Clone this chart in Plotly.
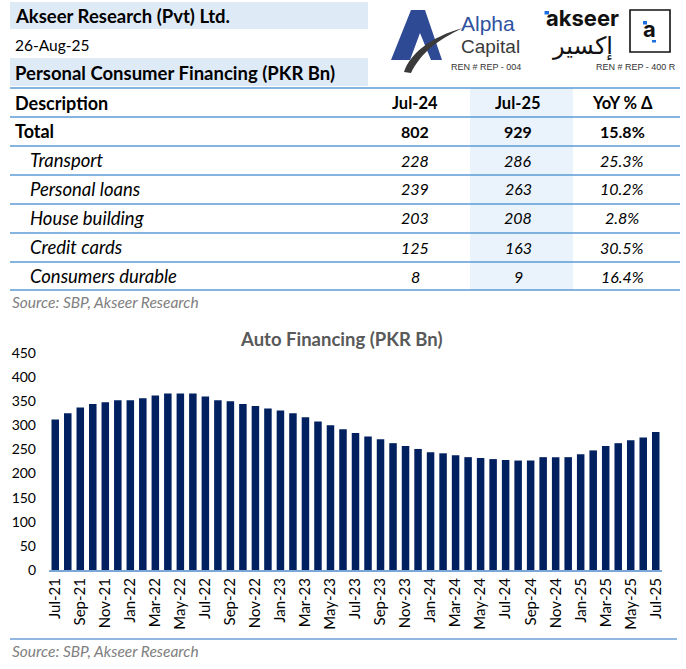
import plotly.graph_objects as go

W, H = 686, 669

# ---------------- data ----------------
months = ["Jul-21", "Aug-21", "Sep-21", "Oct-21", "Nov-21", "Dec-21",
          "Jan-22", "Feb-22", "Mar-22", "Apr-22", "May-22", "Jun-22",
          "Jul-22", "Aug-22", "Sep-22", "Oct-22", "Nov-22", "Dec-22",
          "Jan-23", "Feb-23", "Mar-23", "Apr-23", "May-23", "Jun-23",
          "Jul-23", "Aug-23", "Sep-23", "Oct-23", "Nov-23", "Dec-23",
          "Jan-24", "Feb-24", "Mar-24", "Apr-24", "May-24", "Jun-24",
          "Jul-24", "Aug-24", "Sep-24", "Oct-24", "Nov-24", "Dec-24",
          "Jan-25", "Feb-25", "Mar-25", "Apr-25", "May-25", "Jun-25",
          "Jul-25"]
auto_financing = [312, 325, 337, 344, 348, 352, 352, 356, 362, 366,
                  366, 366, 360, 352, 350, 344, 340, 335, 331, 325,
                  317, 308, 300, 292, 284, 277, 271, 263, 257, 251,
                  244, 242, 238, 234, 232, 230, 228, 227, 227, 234,
                  234, 234, 240, 248, 257, 263, 269, 275, 286]
tick_labels = months[::2]

descriptions = ["Transport", "Personal loans", "House building",
                "Credit cards", "Consumers durable"]
jul24 = [228, 239, 203, 125, 8]
jul25 = [286, 263, 208, 163, 9]
yoy = ["25.3%", "10.2%", "2.8%", "30.5%", "16.4%"]
total_row = ["Total", 802, 929, "15.8%"]
headers = ["Description", "Jul-24", "Jul-25", "YoY % Δ"]

# ---------------- helpers (pixel -> paper) ----------------
def px(x):
    return x / W

def py(y):
    return 1 - y / H

def path(cmds):
    out = []
    for c in cmds:
        if isinstance(c, str):
            out.append(c)
        else:
            out.append(f"{px(c[0]):.5f},{py(c[1]):.5f}")
    return " ".join(out)

FONT = "Lato, Open Sans, sans-serif"
LINE_BLUE = "#5b9bd5"

fig = go.Figure()
fig.add_trace(go.Bar(x=months, y=auto_financing, marker_color="#002060",
                     marker_line_width=0, hoverinfo="x+y"))

shapes = []
annos = []

def rect(x0, y0, x1, y1, fill, line=None, lw=0, layer="below"):
    shapes.append(dict(type="rect", xref="paper", yref="paper",
                       x0=px(x0), x1=px(x1), y0=py(y1), y1=py(y0),
                       fillcolor=fill, line=dict(width=lw, color=line or fill),
                       layer=layer))

def hline(y, x0, x1, color=LINE_BLUE, w=1.3):
    shapes.append(dict(type="line", xref="paper", yref="paper",
                       x0=px(x0), x1=px(x1), y0=py(y), y1=py(y),
                       line=dict(color=color, width=w)))

def text(x, y, s, size=16, color="#000", bold=False, italic=False,
         anchor="left", family=FONT):
    t = f"<b>{s}</b>" if bold else s
    t = f"<i>{t}</i>" if italic else t
    annos.append(dict(x=px(x), y=py(y), xref="paper", yref="paper",
                      text=t, showarrow=False, xanchor=anchor, yanchor="middle",
                      borderpad=0,
                      font=dict(family=family, size=size, color=color)))

# header bands
rect(10, 2, 368, 29, "#dfeaf7")
rect(10, 58, 368, 86, "#dfeaf7")
# Jul-25 column shading
rect(470, 88, 573, 290, "#eaf2fb")

text(14, 16, "Akseer Research (Pvt) Ltd.", 18.5, bold=True)
text(14, 45, "26-Aug-25", 15.5)
text(14, 73, "Personal Consumer Financing (PKR Bn)", 18.5, bold=True)

# table lines
for y in [88, 117, 146, 175, 204, 233, 262, 290]:
    hline(y, 10, 680)

col_x = [415, 518, 622]
row_h = 103
text(14, row_h, headers[0], 18, bold=True)
for cx, h in zip(col_x, headers[1:]):
    text(cx, row_h, h, 16.5, bold=True, anchor="center")

text(14, 131, total_row[0], 18, bold=True)
for cx, v in zip(col_x, total_row[1:]):
    text(cx, 131, str(v), 16, bold=True, anchor="center")

for i, d in enumerate(descriptions):
    y = 160 + 29 * i
    text(29, y, d, 18.5, italic=True)
    text(col_x[0], y, str(jul24[i]), 16, italic=True, anchor="center")
    text(col_x[1], y, str(jul25[i]), 16, italic=True, anchor="center")
    text(col_x[2], y, yoy[i], 16, italic=True, anchor="center")

text(11, 302, "Source: SBP, Akseer Research", 15.5, color="#808080", italic=True)

# chart title & bottom
text(341, 339, "Auto Financing (PKR Bn)", 18.5, color="#595959", bold=True,
     anchor="center")
hline(639, 10, 677, color="#6e9fd6", w=1.5)
text(11, 651, "Source: SBP, Akseer Research", 15.5, color="#808080", italic=True)

# ---------------- logos ----------------
# Alpha Capital "A"
shapes.append(dict(type="path", xref="paper", yref="paper", layer="above",
                   path=path(["M", (411, 10), "L", (425, 10), "L", (442, 60),
                              "L", (431, 60), "L", (420, 33), "L", (410, 60),
                              "L", (391, 60), "Z"]),
                   fillcolor="#2e4a95", line=dict(width=0)))
shapes.append(dict(type="path", xref="paper", yref="paper", layer="above",
                   path=path(["M", (404, 72), "C", (410, 54), (430, 37), (463, 28),
                              "C", (437, 40), (421, 53), (411, 73), "Z"]),
                   fillcolor="#3a3a3a", line=dict(width=0)))
text(460, 23, "Alpha", 21, color="#2f52a0", family="Liberation Sans, Arial")
text(460, 46, "Capital", 19, color="#3a3a3a", family="Liberation Sans, Arial")
text(486, 67, "REN # REP - 004", 9, color="#333",
     family="Liberation Sans Narrow, Liberation Sans", anchor="center")

# akseer logo
text(582, 17.5, "akseer", 22, color="#111", bold=True,
     family="Inter, Liberation Sans", anchor="center")
rect(544.5, 11, 549, 14.5, "#1a6fe0", layer="above")
text(582, 46, "إكسير", 24, color="#111", family="DejaVu Sans", anchor="center")
rect(630, 10, 670, 52, "rgba(0,0,0,0)", line="#111", lw=1.6, layer="above")
text(649, 29, "a", 22, color="#111", bold=True,
     family="Inter, Liberation Sans", anchor="center")
rect(643, 21, 647, 24.5, "#1a6fe0", layer="above")
rect(652, 40, 656, 42.5, "#1a6fe0", layer="above")
text(636, 67, "REN # REP - 400 R", 9, color="#333",
     family="Liberation Sans Narrow, Liberation Sans", anchor="center")

fig.update_layout(
    width=W, height=H, autosize=False,
    margin=dict(l=0, r=0, t=0, b=0, pad=0, autoexpand=False),
    paper_bgcolor="white", plot_bgcolor="white",
    showlegend=False, bargap=0.4,
    shapes=shapes, annotations=annos,
    font=dict(family=FONT, color="#000"),
    xaxis=dict(domain=[px(49), px(662)], type="category", automargin=False,
               tickmode="array", tickvals=tick_labels, ticktext=tick_labels,
               tickangle=-90, tickfont=dict(size=15, color="#000"),
               showline=True, linecolor="#7aa6d8", linewidth=2,
               showgrid=False, ticks="", zeroline=False, fixedrange=True),
    yaxis=dict(domain=[py(570), py(353)], range=[0, 450], dtick=50,
               automargin=False,
               tickfont=dict(size=14, color="#000"), showgrid=False,
               showline=False, zeroline=False, ticks="", ticklabelstandoff=12,
               fixedrange=True),
)

fig.write_html("out.html", config={"displayModeBar": False},
               post_script="document.body.style.margin='0px';document.body.style.overflow='hidden';")
